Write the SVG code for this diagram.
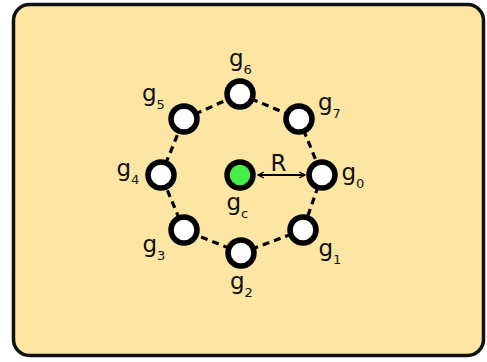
<svg xmlns="http://www.w3.org/2000/svg" width="487" height="362" viewBox="0 0 487 362">
<defs>
<style>
.frame{fill:#fde6a4;stroke:#111;stroke-width:3.5}
.node{fill:#fff;stroke:#000;stroke-width:5.5}
.center{fill:#44ee44;stroke:#000;stroke-width:5.5}
.edge{stroke:#000;stroke-width:3.2;stroke-dasharray:7 5;fill:none}
.arrow{stroke:#000;stroke-width:1.8;fill:none;marker-start:url(#ah);marker-end:url(#ah)}
.lbl{font-family:"DejaVu Sans",sans-serif;font-size:23px;fill:#111}
.sub{font-size:13px}
</style>
<marker id="ah" viewBox="0 0 10 10" refX="9" refY="5" markerWidth="4" markerHeight="4" orient="auto-start-reverse" markerUnits="strokeWidth">
<path d="M1,1 L9,5 L1,9" fill="none" stroke="#000" stroke-width="1.8"/>
</marker>
</defs>
<rect class="frame" x="13.5" y="4.5" width="470" height="351" rx="16" ry="16"/>
<g id="connectors">
<line class="edge" x1="322" y1="175" x2="303" y2="230"/>
<line class="edge" x1="303" y1="230" x2="241" y2="253"/>
<line class="edge" x1="241" y1="253" x2="184" y2="230"/>
<line class="edge" x1="184" y1="230" x2="161" y2="175"/>
<line class="edge" x1="161" y1="175" x2="184" y2="119"/>
<line class="edge" x1="184" y1="119" x2="240" y2="94"/>
<line class="edge" x1="240" y1="94" x2="299" y2="119"/>
<line class="edge" x1="299" y1="119" x2="322" y2="175"/>
<line class="arrow" x1="258" y1="175" x2="305" y2="175"/>
</g>
<g id="g0"><circle class="node" cx="322" cy="175" r="13"/><text class="lbl" x="341.5" y="180">g<tspan class="sub" dy="8">0</tspan></text></g>
<g id="g1"><circle class="node" cx="303" cy="230" r="13"/><text class="lbl" x="318.5" y="256">g<tspan class="sub" dy="8">1</tspan></text></g>
<g id="g2"><circle class="node" cx="241" cy="253" r="13"/><text class="lbl" x="230" y="289">g<tspan class="sub" dy="8">2</tspan></text></g>
<g id="g3"><circle class="node" cx="184" cy="230" r="13"/><text class="lbl" x="142.5" y="252">g<tspan class="sub" dy="8">3</tspan></text></g>
<g id="g4"><circle class="node" cx="161" cy="175" r="13"/><text class="lbl" x="116.5" y="176">g<tspan class="sub" dy="8">4</tspan></text></g>
<g id="g5"><circle class="node" cx="184" cy="119" r="13"/><text class="lbl" x="142" y="101">g<tspan class="sub" dy="8">5</tspan></text></g>
<g id="g6"><circle class="node" cx="240" cy="94" r="13"/><text class="lbl" x="229" y="66">g<tspan class="sub" dy="8">6</tspan></text></g>
<g id="g7"><circle class="node" cx="299" cy="119" r="13"/><text class="lbl" x="318" y="110">g<tspan class="sub" dy="8">7</tspan></text></g>
<g id="gc"><circle class="center" cx="240" cy="175" r="13"/><text class="lbl" x="226.5" y="210">g<tspan class="sub" dy="8">c</tspan></text></g>
<text class="lbl" x="278.5" y="171" text-anchor="middle">R</text>
</svg>
